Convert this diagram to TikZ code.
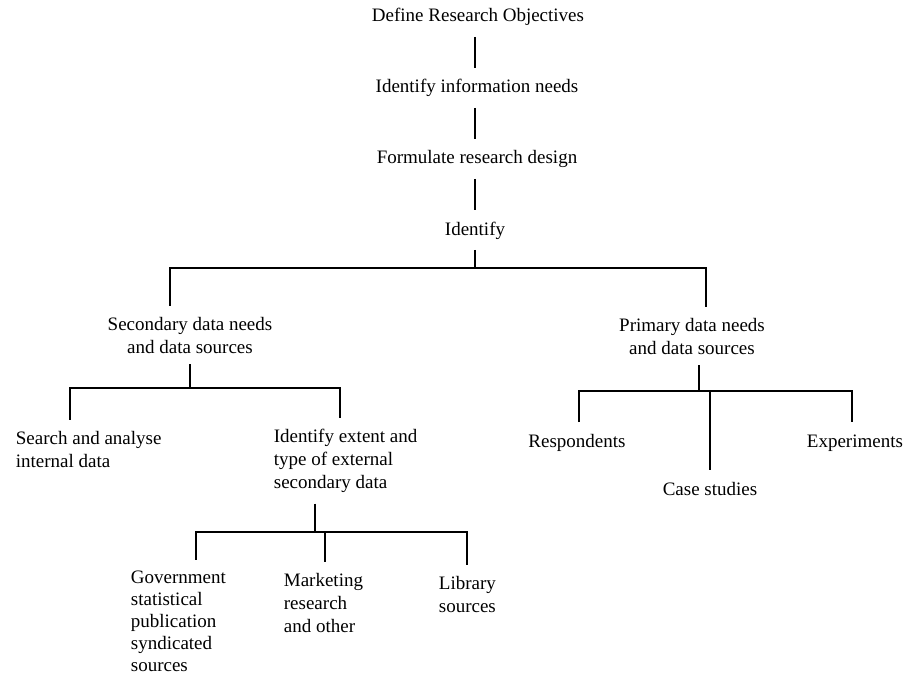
\documentclass[tikz,border=0pt]{standalone}
\usepackage{fontspec}
\setmainfont{Liberation Serif}
\begin{document}
\begin{tikzpicture}[x=1pt,y=-1pt,line width=1.8pt,
  box/.style={inner xsep=0pt,inner ysep=10pt,font=\fontsize{19}{23}\selectfont},
  sbox/.style={box,text height=14pt,text depth=4pt},
  lbox/.style={box,align=left,anchor=west},
  cbox/.style={box,align=center}]
\useasboundingbox (0,0) rectangle (904,679);
\node[sbox] (def) at (478,17) {Define Research Objectives};
\node[sbox] (info) at (477,88) {Identify information needs};
\node[sbox] (design) at (477,159) {Formulate research design};
\node[sbox] (ident) at (475,230) {Identify};
\node[cbox] (sec) at (190,335) {Secondary data needs\\and data sources};
\node[cbox] (prim) at (692,336) {Primary data needs\\and data sources};
\node[lbox] (search) at (15,449) {Search and analyse\\internal data};
\node[lbox] (extent) at (273,461) {Identify extent and\\type of external\\secondary data};
\node[sbox] (resp) at (577,442) {Respondents};
\node[sbox,anchor=west] (exper) at (806,442) {Experiments};
\node[sbox] (case) at (710,490) {Case studies};
\node[lbox,font=\fontsize{19}{22}\selectfont] (gov) at (130,621) {Government\\statistical\\publication\\syndicated\\sources};
\node[lbox] (mkt) at (283,603) {Marketing\\research\\and other};
\node[lbox] (lib) at (438,594) {Library\\sources};
\coordinate (busL) at (170,268);
\coordinate (busR) at (706,268);
\coordinate (s1) at (70,388);
\coordinate (s2) at (340,388);
\coordinate (pj) at (699,391);
\coordinate (p1) at (579,391);
\coordinate (p2) at (852,391);
\coordinate (ej) at (315,532);
\coordinate (e1) at (196,532);
\coordinate (em) at (325,532);
\coordinate (e2) at (467,532);
\draw (def.south -| ident) -- (info.north -| ident);
\draw (info.south -| ident) -- (design.north -| ident);
\draw (design.south -| ident) -- (ident.north);
\draw (ident.south) -- (busL -| ident);
\draw (busL |- sec.north) -- (busL) -- (busR) -- (busR |- prim.north);
\draw (sec.south) -- (sec |- s1);
\draw (s1 |- search.north) -- (s1) -- (s2) -- (s2 |- extent.north);
\draw (prim.south -| pj) -- (pj);
\draw (p1 |- resp.north) -- (p1) -- (p2) -- (p2 |- exper.north);
\draw (p1 -| case) -- (case.north);
\draw (extent.south -| ej) -- (ej);
\draw (e1 |- gov.north) -- (e1) -- (e2) -- (e2 |- lib.north);
\draw (em) -- (em |- mkt.north);
\end{tikzpicture}
\end{document}
